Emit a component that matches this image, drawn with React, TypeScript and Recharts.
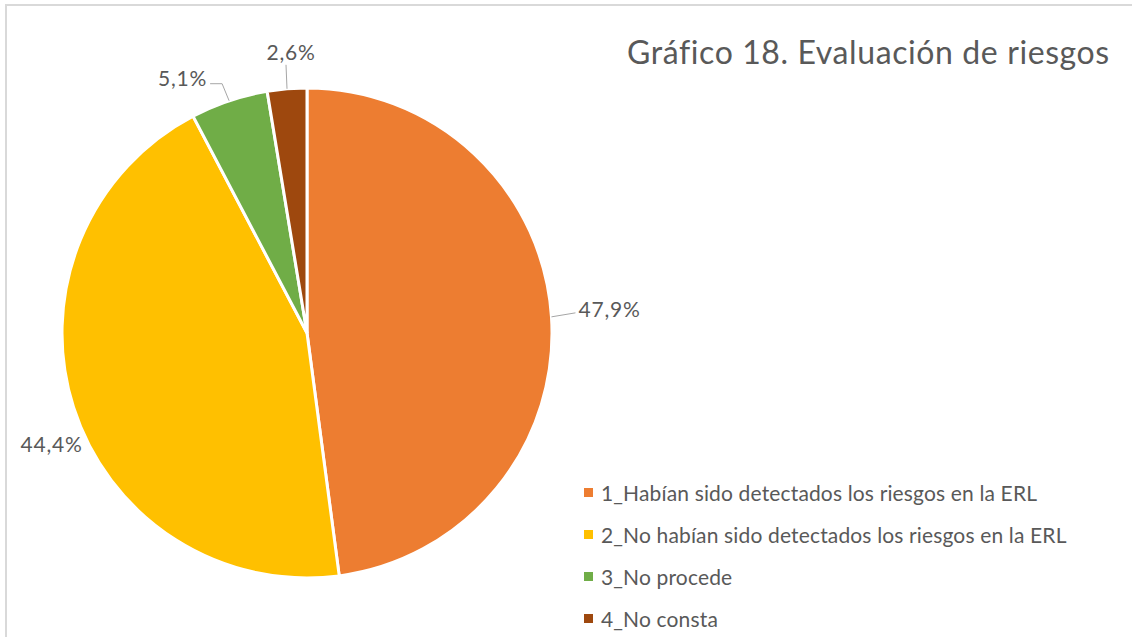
import React from "react";
import { PieChart, Pie, Cell, Legend } from "recharts";

const categories = [
  "1_Habían sido detectados los riesgos en la ERL",
  "2_No habían sido detectados los riesgos en la ERL",
  "3_No procede",
  "4_No consta",
];
const values = [47.9, 44.4, 5.1, 2.6];
const colors = ["#ED7D31", "#FFC000", "#70AD47", "#9E480E"];
const title = "Gráfico 18. Evaluación de riesgos";

const data = categories.map((name, i) => ({ name, value: values[i] }));

const FONT = "Lato, 'Open Sans', sans-serif";
const TEXT = "#595959";

// label layout relative to slice edge point (styling only)
const labelLayout = [
  { line: [[24, -4]], text: [27, -8], anchor: "start" },
  { line: [], text: [-22, 36], anchor: "middle" },
  { line: [[-7, -17], [-19, -17]], text: [-22, -23], anchor: "end" },
  { line: [[-1, -24]], text: [4, -37], anchor: "middle" },
];

const renderLabel = (props: any) => {
  const { cx, cy, midAngle, outerRadius, index, value } = props;
  const rad = (Math.PI / 180) * midAngle;
  const ex = cx + outerRadius * Math.cos(rad);
  const ey = cy - outerRadius * Math.sin(rad);
  const l = labelLayout[index];
  const pts = [[ex, ey], ...l.line.map(([dx, dy]) => [ex + dx, ey + dy])];
  return (
    <g key={`lbl-${index}`}>
      {pts.length > 1 && (
        <polyline
          points={pts.map((p) => p.join(",")).join(" ")}
          fill="none"
          stroke="#A6A6A6"
          strokeWidth={1}
        />
      )}
      <text
        x={ex + l.text[0]}
        y={ey + l.text[1]}
        textAnchor={l.anchor as any}
        dominantBaseline="central"
        fill={TEXT}
        fontSize={21}
        letterSpacing={0.8}
        fontFamily={FONT}
      >
        {value.toFixed(1).replace(".", ",") + "%"}
      </text>
    </g>
  );
};

const renderLegend = () => (
  <div style={{ fontFamily: FONT }}>
    {data.map((d, i) => (
      <div
        key={d.name}
        style={{ display: "flex", alignItems: "center", height: 42, whiteSpace: "nowrap" }}
      >
        <span
          style={{ width: 9, height: 9, background: colors[i], display: "inline-block", marginRight: 8 }}
        />
        <span style={{ color: TEXT, fontSize: 21, letterSpacing: 0.15 }}>{d.name}</span>
      </div>
    ))}
  </div>
);

export default function App() {
  return (
    <div
      style={{
        position: "absolute",
        left: 0,
        top: 0,
        width: 1132,
        height: 637,
        background: "#fff",
        overflow: "hidden",
      }}
    >
      <div
        style={{
          position: "absolute",
          left: 5,
          top: 4,
          width: 1127,
          height: 633,
          borderTop: "2px solid #D9D9D9",
          borderLeft: "2px solid #D9D9D9",
        }}
      />
      <div
        style={{
          position: "absolute",
          left: 627,
          top: 32,
          fontFamily: FONT,
          fontSize: 32,
          letterSpacing: 0.6,
          color: TEXT,
          whiteSpace: "nowrap",
        }}
      >
        {title}
      </div>
      <div style={{ position: "absolute", left: 0, top: 0 }}>
        <PieChart width={1132} height={637} margin={{ top: 0, right: 0, bottom: 0, left: 0 }}>
          <Pie
            data={data}
            dataKey="value"
            nameKey="name"
            cx={307}
            cy={333}
            outerRadius={245}
            startAngle={90}
            endAngle={-270}
            stroke="#fff"
            strokeWidth={3}
            label={renderLabel}
            labelLine={false}
            isAnimationActive={false}
          >
            {data.map((d, i) => (
              <Cell key={d.name} fill={colors[i]} />
            ))}
          </Pie>
          <Legend
            content={renderLegend}
            layout="vertical"
            wrapperStyle={{ position: "absolute", left: 584, top: 471, width: 540 }}
          />
        </PieChart>
      </div>
    </div>
  );
}
